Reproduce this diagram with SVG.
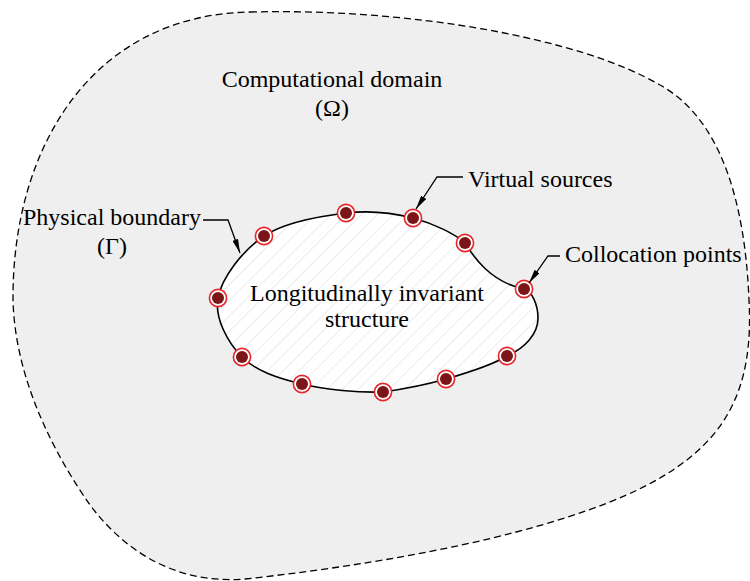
<svg xmlns="http://www.w3.org/2000/svg" width="750" height="581" viewBox="0 0 750 581">
<defs>
<style>
.lbl{font-family:"Liberation Serif","Times New Roman",serif;font-size:24px;fill:#000}
.ring{fill:#fff;stroke:#e8262a;stroke-width:1.6}
.dot{fill:#7b1517}
.lead{fill:none;stroke:#000;stroke-width:1.3}
</style>
<pattern id="hatch" width="11" height="11" patternUnits="userSpaceOnUse" patternTransform="rotate(45)">
<rect width="11" height="11" fill="#fff"/>
<line x1="0" y1="0" x2="0" y2="11" stroke="#dedede" stroke-width="1.2"/>
</pattern>
<marker id="arr" viewBox="0 0 14 6" refX="14" refY="3" markerWidth="14" markerHeight="6" markerUnits="userSpaceOnUse" orient="auto">
<path d="M0,0 L14,3 L0,6 Z" fill="#000"/>
</marker>
<g id="pt">
<circle r="8.6" class="ring"/>
<circle r="6" class="dot"/>
</g>
</defs>
<g id="domain">
<path d="M250,12 C410,8 580,38 660,85 C720,118 745,200 749,300 C754,390 725,440 660,478 C580,525 420,560 245,579 C170,585 120,545 90,505 C55,455 15,380 13,300 C12,150 90,15 250,12 Z" fill="#efefef" stroke="#000" stroke-width="1.3" stroke-dasharray="7,4"/>
<text class="lbl" x="332" y="87" text-anchor="middle">Computational domain</text>
<text class="lbl" x="332" y="116" text-anchor="middle">(Ω)</text>
</g>
<g id="structure">
<path d="M218,298 C221.7,277.8 242.7,250.2 264,236 C285.3,221.8 321.2,216 346,213 C370.8,210 393.2,213 413,218 C435,224 455,234 465,243 C473,256 490,282 524,289 C532,291 538,305 538,318 C538,334 525,348 507,356 C491.8,365.5 466.7,373 446,379 C425,385 404,389 383,392 C359,392.8 325.5,389.8 302,384 C278.5,378.2 256,371.3 242,357 C228,342.7 214.3,318.2 218,298 Z" fill="url(#hatch)" stroke="#000" stroke-width="1.6"/>
<text class="lbl" x="367" y="301" text-anchor="middle">Longitudinally invariant</text>
<text class="lbl" x="367" y="327" text-anchor="middle">structure</text>
</g>
<g id="points">
<use href="#pt" x="264" y="236"/>
<use href="#pt" x="346" y="213"/>
<use href="#pt" x="413" y="218"/>
<use href="#pt" x="465" y="243"/>
<use href="#pt" x="524" y="289"/>
<use href="#pt" x="507" y="356"/>
<use href="#pt" x="446" y="379"/>
<use href="#pt" x="383" y="392"/>
<use href="#pt" x="302" y="384"/>
<use href="#pt" x="242" y="357"/>
<use href="#pt" x="218" y="298"/>
</g>
<g id="label-boundary">
<text class="lbl" x="23" y="225">Physical boundary</text>
<text class="lbl" x="112" y="254" text-anchor="middle">(Γ)</text>
</g>
<g id="label-sources">
<text class="lbl" x="468" y="187">Virtual sources</text>
</g>
<g id="label-collocation">
<text class="lbl" x="565" y="262">Collocation points</text>
</g>
<g id="connectors">
<polyline class="lead" points="203,220 228,220 240,253" marker-end="url(#arr)"/>
<polyline class="lead" points="463,177 437,177 416,209" marker-end="url(#arr)"/>
<polyline class="lead" points="560,256 548,256 529,283" marker-end="url(#arr)"/>
</g>
</svg>
